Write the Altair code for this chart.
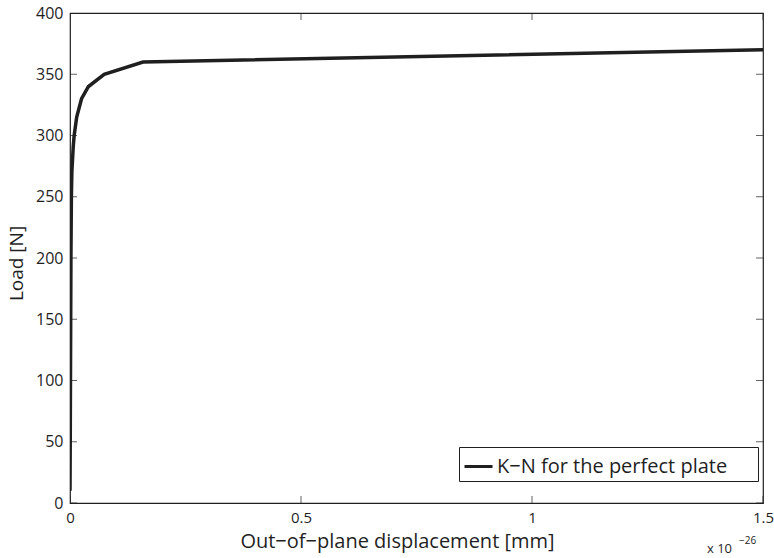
import altair as alt
import pandas as pd

# Load–displacement path (displacement in units of 1e-26 mm)
load_n = [10, 50, 100, 150, 200, 250, 270, 291, 300, 315, 330, 340, 350, 360, 370]
disp_e26 = [0.0, 0.0005, 0.001, 0.0015, 0.002, 0.003, 0.004, 0.007, 0.009,
            0.0145, 0.025, 0.04, 0.074, 0.158, 1.5]
series_name = "K\u2212N for the perfect plate"

x_ticks = [0, 0.5, 1, 1.5]
y_ticks = [0, 50, 100, 150, 200, 250, 300, 350, 400]

FONT = "Open Sans"
INK = "#1f1f1f"

curve = pd.DataFrame({"disp": disp_e26, "load": load_n, "series": series_name})
xt = pd.DataFrame({"v": x_ticks})
yt = pd.DataFrame({"v": y_ticks})

xscale = alt.Scale(domain=[0, 1.5], nice=False, zero=False)
yscale = alt.Scale(domain=[0, 400], nice=False, zero=False)

# One axis definition per channel, shared by every layer so they merge cleanly
xaxis = alt.Axis(values=x_ticks, format="~g", ticks=False, domain=False,
                 grid=False, labelFlush=False, labelPadding=7,
                 labelFontSize=15, labelColor=INK, labelFont=FONT,
                 title="Out\u2212of\u2212plane displacement [mm]",
                 titleFontSize=20, titleFont=FONT, titleFontWeight="normal",
                 titleColor=INK, titlePadding=6, titleX=327)
yaxis = alt.Axis(values=y_ticks, ticks=False, domain=False, grid=False,
                 labelPadding=7, labelFontSize=16, labelColor=INK,
                 labelFont=FONT, title="Load [N]", titleFontSize=19,
                 titleFont=FONT, titleFontWeight="normal", titleColor=INK,
                 titlePadding=9, titleY=250)

# Legend label gets a little trailing room (non-breaking spaces closed by a
# zero-width space so the padding is not trimmed away)
legend_pad = "\u00a0" * 5 + "\u200b"

line = alt.Chart(curve).mark_line(strokeWidth=3.5, clip=True).encode(
    x=alt.X("disp:Q", scale=xscale, axis=xaxis),
    y=alt.Y("load:Q", scale=yscale, axis=yaxis),
    color=alt.Color("series:N", scale=alt.Scale(range=[INK]),
                    legend=alt.Legend(title=None, orient="none", legendX=389,
                                      legendY=434, symbolType="stroke",
                                      symbolStrokeWidth=3, symbolSize=784,
                                      labelFontSize=20, labelFont=FONT,
                                      labelColor=INK, labelOffset=3,
                                      labelLimit=600,
                                      strokeColor=INK, fillColor="white",
                                      padding=4,
                                      labelExpr=f"datum.label + '{legend_pad}'")),
)

# Inward-pointing tick marks on all four sides of the box
tick_style = dict(color=INK, thickness=1, size=14, clip=True)
bottom_ticks = alt.Chart(xt).mark_tick(orient="vertical", **tick_style).encode(
    x=alt.X("v:Q", scale=xscale, axis=xaxis), y=alt.Y(datum=0, scale=yscale, axis=yaxis))
top_ticks = alt.Chart(xt).mark_tick(orient="vertical", **tick_style).encode(
    x=alt.X("v:Q", scale=xscale, axis=xaxis), y=alt.Y(datum=400, scale=yscale, axis=yaxis))
left_ticks = alt.Chart(yt).mark_tick(orient="horizontal", **tick_style).encode(
    y=alt.Y("v:Q", scale=yscale, axis=yaxis), x=alt.X(datum=0, scale=xscale, axis=xaxis))
right_ticks = alt.Chart(yt).mark_tick(orient="horizontal", **tick_style).encode(
    y=alt.Y("v:Q", scale=yscale, axis=yaxis), x=alt.X(datum=1.5, scale=xscale, axis=xaxis))

# Axis exponent label
mult = alt.Chart(pd.DataFrame({"t": ["x 10"]})).mark_text(
    align="left", baseline="alphabetic", fontSize=13, font=FONT, color=INK,
    dx=-56, dy=50).encode(
    x=alt.X(datum=1.5, scale=xscale, axis=xaxis),
    y=alt.Y(datum=0, scale=yscale, axis=yaxis), text="t:N")
expo = alt.Chart(pd.DataFrame({"t": ["\u221226"]})).mark_text(
    align="left", baseline="alphabetic", fontSize=10, font=FONT, color=INK,
    dx=-24, dy=41).encode(
    x=alt.X(datum=1.5, scale=xscale, axis=xaxis),
    y=alt.Y(datum=0, scale=yscale, axis=yaxis), text="t:N")

chart = alt.layer(line, bottom_ticks, top_ticks, left_ticks, right_ticks, mult, expo).properties(
    width=693, height=490,
    autosize=alt.AutoSizeParams(type="none"),
    padding={"left": 70, "top": 13, "right": 11, "bottom": 55},
    background="white",
).configure_view(stroke=INK, strokeWidth=1.2)

chart.save("out.html", embed_options={"renderer": "svg", "actions": False})
